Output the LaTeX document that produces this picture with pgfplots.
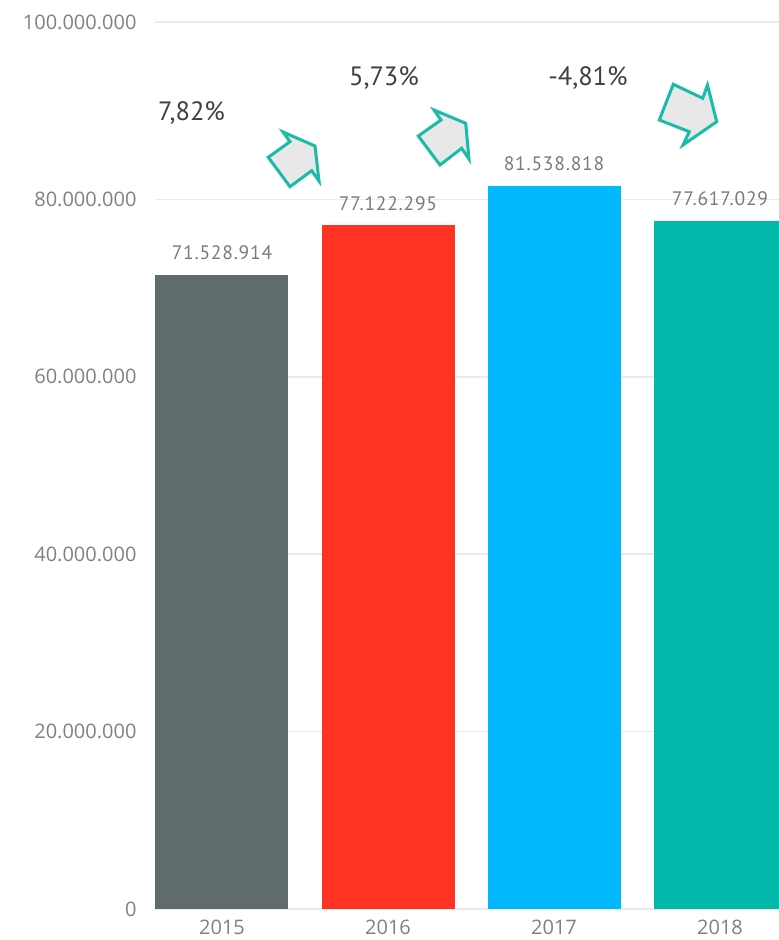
\documentclass[border=0pt]{standalone}
\usepackage{fontspec}
\setmainfont{Open Sans}
\newfontfamily\din[LetterSpace=4]{PT Sans}
\newfontfamily\dinb{PT Sans}
\usepackage{pgfplots}
\pgfplotsset{compat=1.18}
\definecolor{tick}{HTML}{808080}
\definecolor{lab}{HTML}{7A7A7A}
\definecolor{pct}{HTML}{404040}
\definecolor{grid}{HTML}{EAEAEA}
\definecolor{arrowline}{HTML}{1ABCA8}
\definecolor{arrowfill}{HTML}{E8E8E8}
\definecolor{c1}{HTML}{5F6B6D}
\definecolor{c2}{HTML}{FF3324}
\definecolor{c3}{HTML}{01B8FF}
\definecolor{c4}{HTML}{01B8AA}
\begin{document}
\begin{tikzpicture}
\useasboundingbox (0pt,0pt) rectangle (779pt,940pt);
\begin{axis}[
  at={(155pt,31pt)}, anchor=south west,
  scale only axis,
  width=624pt, height=887pt,
  xmin=-0.4036, xmax=3.3554,
  ymin=0, ymax=100000000,
  axis x line*=bottom, axis y line*=left,
  x axis line style={draw=grid,-,line width=1.5pt},
  y axis line style={draw=none,-},
  major tick length=0pt,
  ybar, bar width=133pt, bar shift=0pt,
  xtick={0,1,2,3},
  xticklabels={2015,2016,2017,2018},
  ytick={0,20000000,40000000,60000000,80000000,100000000},
  yticklabels={0,20.000.000,40.000.000,60.000.000,80.000.000,100.000.000},
  scaled y ticks=false,
  ymajorgrids, grid style={draw=grid,line width=1.5pt},
  tick label style={font=\fontsize{20}{24}\selectfont,text=tick},
  yticklabel style={xshift=-15pt},
  xticklabel style={yshift=-11pt,inner ysep=0pt},
  nodes near coords,
  point meta=explicit symbolic,
  every node near coord/.append style={font=\din\fontsize{19.5}{22}\selectfont,text=lab,yshift=11pt,anchor=south},
]
\addplot[fill=c1,draw=none] table[meta=l] {
x y l
0 71528914 71.528.914
};
\addplot[fill=c2,draw=none] table[meta=l] {
x y l
1 77122295 77.122.295
};
\addplot[fill=c3,draw=none] table[meta=l] {
x y l
2 81538818 81.538.818
};
\addplot[fill=c4,draw=none] table[meta=l] {
x y l
3 77617029 77.617.029
};
\end{axis}
\begin{scope}[x=1pt,y=-1pt,yshift=940pt,draw=arrowline,fill=arrowfill,line width=3pt,miter limit=10]
\filldraw (268.3,157.3)--(290,186.7)--(311.7,170.7)--(319,181)--(315,146)--(283,132)--(290,141.7)--cycle;
\filldraw (418.3,136)--(440,165)--(461.7,148.3)--(469,159)--(465.7,123.3)--(434,110)--(441,120)--cycle;
\filldraw (659.3,120)--(689.3,131.7)--(683,145)--(716.7,121.7)--(707.5,85)--(702.7,98.3)--(673.3,84.3)--cycle;
\end{scope}
\begin{scope}[x=1pt,y=-1pt,yshift=940pt,every node/.style={font=\dinb\fontsize{26.5}{30}\selectfont,text=pct,inner sep=0pt}]
\node at (191.5,113) {7,82\%};
\node at (384,78) {5,73\%};
\node at (588,78) {-4,81\%};
\end{scope}
\end{tikzpicture}
\end{document}
